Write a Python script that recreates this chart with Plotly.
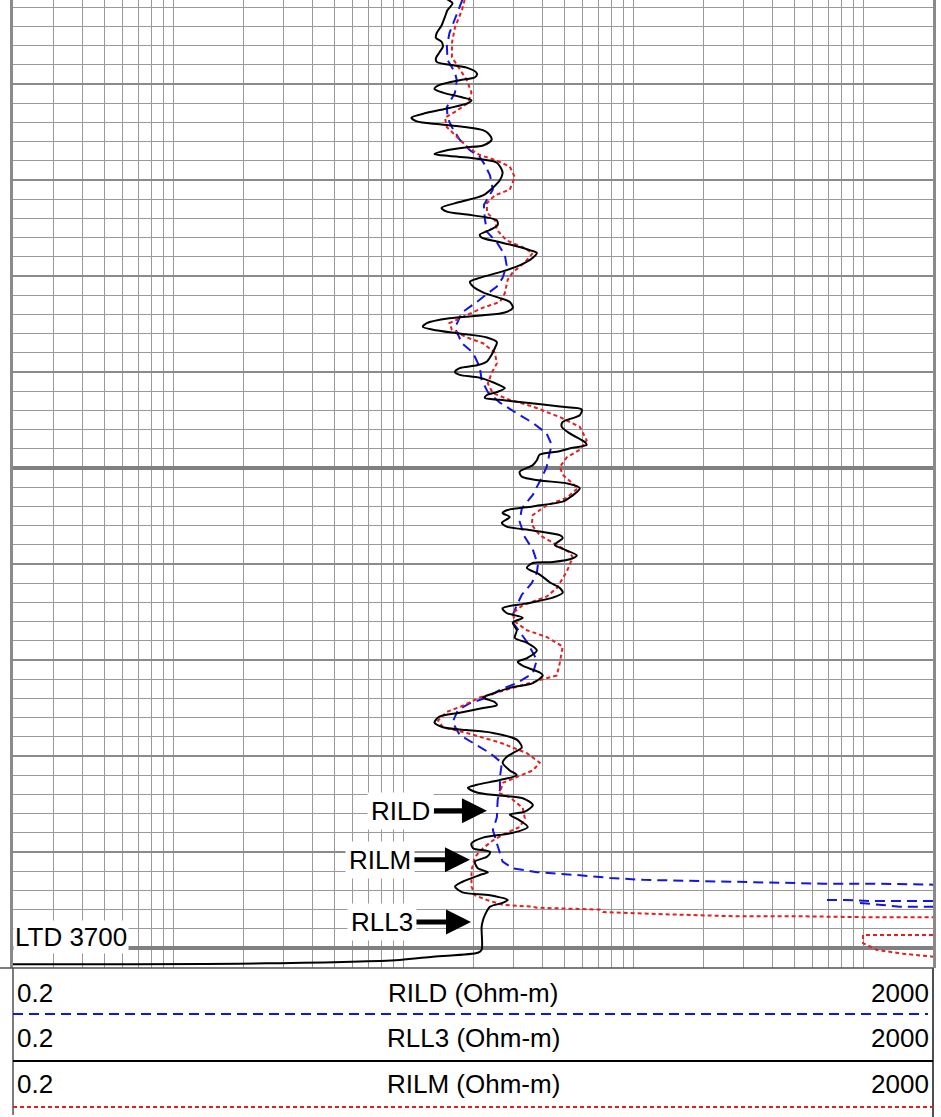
import math
import plotly.graph_objects as go

# RLL3 - black solid
rll3_depth = [3601.2, 3601.6, 3602.3, 3603.0, 3603.9, 3604.7, 3605.2, 3605.6, 3606.1, 3606.7,
              3607.3, 3607.7, 3608.0, 3608.3, 3608.9, 3609.3, 3609.6, 3610.1, 3610.5, 3610.9,
              3611.4, 3611.7, 3612.0, 3612.5, 3613.0, 3613.5, 3613.9, 3614.2, 3614.5, 3614.8,
              3615.1, 3615.8, 3616.4, 3616.6, 3616.9, 3617.3, 3617.5, 3617.7, 3617.9, 3618.2,
              3619.2, 3620.0, 3620.8, 3621.6, 3622.3, 3622.9, 3623.3, 3623.6, 3623.9, 3624.2,
              3624.7, 3625.2, 3625.7, 3626.0, 3626.4, 3626.8, 3627.3, 3627.6, 3628.1, 3628.9,
              3629.6, 3630.2, 3630.6, 3631.1, 3631.7, 3632.3, 3632.7, 3633.3, 3633.8, 3634.1,
              3634.4, 3634.9, 3635.3, 3635.6, 3636.0, 3636.4, 3636.9, 3637.5, 3638.2, 3638.9,
              3639.3, 3639.6, 3640.0, 3640.3, 3640.6, 3641.4, 3641.7, 3642.1, 3642.4, 3642.7,
              3642.9, 3643.2, 3643.6, 3643.9, 3644.5, 3645.2, 3645.7, 3646.4, 3647.3, 3647.6,
              3647.9, 3648.3, 3648.6, 3649.2, 3649.7, 3650.4, 3650.9, 3651.3, 3651.6, 3652.1,
              3653.3, 3653.5, 3654.0, 3654.4, 3654.7, 3655.1, 3655.7, 3656.1, 3656.5, 3657.0,
              3657.3, 3658.0, 3658.3, 3659.1, 3659.4, 3659.8, 3659.9, 3660.4, 3661.1, 3661.9,
              3662.5, 3663.0, 3663.5, 3664.1, 3664.6, 3665.1, 3665.6, 3666.1, 3666.9, 3667.7,
              3668.2, 3669.0, 3669.8, 3670.2, 3670.7, 3671.3, 3671.6, 3672.4, 3672.9, 3673.6,
              3673.9, 3674.4, 3674.7, 3675.0, 3675.5, 3675.9, 3676.5, 3677.0, 3677.3, 3677.6,
              3678.3, 3679.1, 3679.7, 3680.1, 3680.7, 3681.5, 3682.0, 3682.5, 3683.0, 3683.3,
              3683.8, 3684.1, 3684.4, 3685.1, 3685.8, 3686.1, 3686.7, 3687.4, 3688.0, 3688.5,
              3689.1, 3689.6, 3690.0, 3690.5, 3691.0, 3691.7, 3692.1, 3692.4, 3693.1, 3693.6,
              3694.2, 3694.5, 3695.0, 3695.3, 3695.7, 3696.6, 3697.1, 3697.8, 3700.2, 3700.5,
              3700.9, 3701.25, 3701.6, 3701.7]
rll3_ohm = [15.5, 16.3, 15.5, 15.1, 14.6, 13.9, 13.8, 14.6, 14.8, 14.3,
            13.8, 13.9, 15.8, 18.8, 20.8, 20.4, 17.5, 14.3, 13.6, 14.8,
            18.0, 19.7, 19.0, 15.8, 12.6, 10.8, 11.4, 14.3, 18.8, 22.1,
            23.2, 24.1, 22.1, 18.8, 15.4, 13.6, 15.8, 19.7, 22.5, 25.4,
            26.9, 26.2, 24.4, 22.1, 17.5, 14.6, 15.4, 18.8, 23.0, 25.4,
            25.6, 23.7, 21.4, 21.8, 25.4, 29.8, 35.3, 37.9, 36.4, 31.9,
            26.2, 21.4, 19.4, 20.0, 22.1, 26.2, 28.9, 29.8, 27.5, 22.1,
            15.8, 12.6, 12.1, 13.4, 17.5, 23.0, 25.4, 24.9, 24.1, 23.0,
            20.8, 17.5, 16.7, 17.5, 21.4, 26.2, 27.5, 25.4, 23.0, 22.5,
            26.2, 34.3, 47.7, 59.4, 58.2, 49.1, 48.6, 52.7, 61.2, 62.4,
            54.3, 46.3, 39.0, 37.9, 36.4, 31.9, 32.6, 39.0, 51.1, 58.2,
            51.1, 49.1, 36.4, 28.0, 26.9, 28.9, 26.7, 28.0, 36.4, 47.7,
            49.1, 45.4, 47.7, 56.5, 54.3, 44.5, 36.4, 34.3, 39.0, 43.1,
            47.7, 49.1, 44.5, 34.3, 26.9, 28.0, 32.9, 29.8, 31.0, 30.4,
            34.3, 37.9, 34.3, 31.3, 33.6, 39.0, 40.2, 36.4, 28.9, 23.7,
            22.1, 24.9, 25.4, 22.1, 17.5, 14.3, 13.6, 14.8, 18.8, 24.4,
            31.0, 32.6, 29.8, 28.0, 26.9, 28.9, 31.0, 26.2, 20.8, 19.0,
            20.8, 25.4, 32.9, 36.4, 33.6, 28.9, 31.9, 34.6, 29.8, 22.1,
            19.7, 20.0, 23.7, 23.0, 20.4, 21.0, 23.2, 21.4, 18.0, 16.7,
            18.0, 23.7, 28.3, 26.9, 23.7, 22.5, 22.1, 21.8, 21.8, 21.0,
            13.4, 9.6, 2.54, 0.2]

# RILD - blue dashed
rild_depth = [3601.2, 3603.3, 3604.7, 3606.1, 3607.5, 3608.8, 3609.6, 3610.9, 3612.4, 3613.5,
              3614.5, 3615.8, 3616.9, 3617.6, 3618.4, 3619.5, 3621.0, 3622.6, 3624.0, 3625.4,
              3626.5, 3627.8, 3628.9, 3630.2, 3631.1, 3631.8, 3632.7, 3633.8, 3635.4, 3637.0,
              3638.0, 3639.5, 3640.8, 3642.1, 3643.2, 3644.3, 3645.3, 3646.4, 3647.6, 3648.4,
              3649.9, 3651.0, 3652.8, 3654.2, 3655.6, 3657.2, 3658.5, 3660.1, 3660.9, 3662.0,
              3663.2, 3664.3, 3665.3, 3666.1, 3668.1, 3670.0, 3671.4, 3672.4, 3673.1, 3673.9,
              3674.5, 3675.2, 3676.5, 3677.8, 3678.6, 3679.7, 3680.7, 3682.2, 3683.5, 3684.6,
              3686.4, 3687.7, 3689.1, 3690.1, 3691.0, 3691.7, 3692.1, 3692.4, 3692.7, 3692.9,
              3693.0, 3693.1, 3693.2, 3693.3, 3693.3, 3693.4]
rild_ohm = [18.0, 16.7, 15.8, 15.4, 15.5, 16.7, 17.0, 16.7, 15.4, 15.5,
            16.2, 17.5, 19.4, 21.4, 22.5, 23.7, 24.4, 22.3, 22.5, 23.0,
            25.4, 27.5, 28.0, 26.9, 25.4, 23.2, 20.8, 17.9, 16.7, 17.9,
            20.0, 21.4, 21.8, 23.2, 26.2, 31.0, 36.4, 41.8, 44.0, 43.1,
            41.8, 39.8, 36.4, 32.6, 31.9, 33.6, 36.4, 38.3, 37.9, 36.0,
            32.6, 31.0, 29.8, 29.8, 34.3, 37.9, 36.4, 31.0, 26.2, 23.0,
            19.4, 17.2, 16.3, 17.5, 20.0, 23.7, 26.7, 26.2, 26.2, 25.6,
            25.4, 24.4, 25.4, 26.2, 26.9, 29.8, 37.9, 56.5, 78.8, 110,
            170, 281, 544, 665, 1064, 2000]
# wrapped (backup) pieces of RILD
rild_wrap1_depth = [3695.0, 3695.0, 3695.1, 3695.1]
rild_wrap1_ohm = [692, 828, 1064, 2000]
rild_wrap2_depth = [3695.3, 3695.5, 3695.7, 3695.7]
rild_wrap2_ohm = [963, 1178, 1438, 2000]

# RILM - red dotted
rilm_depth = [3601.2, 3602.3, 3604.1, 3605.7, 3607.2, 3608.2, 3609.6, 3610.9, 3612.0, 3612.9,
              3613.5, 3614.5, 3615.5, 3616.6, 3617.4, 3617.9, 3618.6, 3619.7, 3621.0, 3621.6,
              3622.4, 3623.4, 3624.2, 3625.2, 3626.3, 3627.0, 3627.6, 3628.6, 3629.6, 3630.4,
              3631.8, 3632.7, 3633.3, 3634.1, 3634.9, 3635.6, 3636.4, 3637.0, 3638.0, 3639.1,
              3640.1, 3641.2, 3642.2, 3642.9, 3643.6, 3644.7, 3645.7, 3647.1, 3648.1, 3648.9,
              3649.9, 3650.7, 3652.1, 3653.1, 3653.9, 3654.9, 3655.9, 3657.0, 3658.0, 3658.8,
              3659.3, 3660.8, 3662.5, 3663.4, 3664.3, 3665.1, 3666.0, 3666.9, 3667.6, 3668.6,
              3670.3, 3671.6, 3672.1, 3672.8, 3673.4, 3673.9, 3674.9, 3675.4, 3676.3, 3677.0,
              3677.6, 3678.6, 3679.7, 3680.7, 3681.5, 3682.2, 3682.8, 3683.9, 3684.3, 3685.4,
              3686.5, 3687.4, 3688.0, 3688.8, 3689.6, 3690.5, 3691.9, 3693.6, 3694.5, 3695.0,
              3695.5, 3695.7, 3695.8, 3696.0, 3696.25, 3696.5, 3696.7, 3696.7, 3696.8, 3696.8]
rilm_ohm = [18.4, 17.9, 16.7, 16.2, 16.2, 17.2, 18.8, 19.7, 19.0, 16.7,
            15.1, 15.4, 17.0, 19.0, 21.4, 24.9, 28.9, 30.4, 28.9, 24.9,
            23.0, 23.0, 24.9, 25.4, 28.0, 32.9, 36.4, 33.6, 29.8, 28.3,
            27.5, 26.2, 22.1, 18.8, 15.8, 16.2, 18.8, 22.1, 24.9, 25.4,
            24.1, 23.2, 24.4, 28.9, 36.4, 47.7, 58.2, 62.4, 58.2, 51.1,
            47.7, 49.1, 57.1, 51.1, 41.8, 36.4, 36.0, 39.0, 46.3, 52.7,
            54.3, 51.1, 46.3, 41.8, 32.9, 29.8, 30.4, 34.3, 41.8, 49.1,
            47.7, 46.3, 39.0, 31.0, 25.4, 21.4, 17.5, 15.4, 14.1, 14.8,
            18.8, 26.2, 34.3, 39.0, 36.4, 31.0, 26.9, 26.2, 28.9, 32.9,
            33.6, 31.9, 28.0, 24.4, 22.1, 20.4, 19.7, 19.7, 20.4, 23.0,
            26.9, 36.4, 37.9, 71.3, 73.5, 144, 281, 544, 1064, 2000]
rilm_wrap_depth = [3698.65, 3698.65, 3699.5, 3700.2, 3700.6, 3700.9]
rilm_wrap_ohm = [2000, 993, 993, 1142, 1482, 2000]

header_rows = ['RILD (Ohm-m)', 'RLL3 (Ohm-m)', 'RILM (Ohm-m)']
scale_left, scale_right = '0.2', '2000'

BLUE = '#1414e6'
RED = '#e61e1e'
GRID = '#999999'
FONT = 'Arial, Liberation Sans, sans-serif'

W, H = 941, 1117
L, R, T, B = 13, 8, 0, 149
plot_h = H - T - B
top_depth = 3601.25
bot_depth = top_depth + plot_h / 9.6


def py(ypix):
    # paper y for a pixel row below/inside the plot
    return (plot_h - ypix) / plot_h


def px(xpix):
    return (xpix - L) / (W - L - R)


fig = go.Figure()

blue_line = dict(color=BLUE, width=2, dash='10px,6px')
red_line = dict(color=RED, width=2, dash='4px,3px')

fig.add_trace(go.Scatter(x=rild_ohm, y=rild_depth, mode='lines', line=blue_line))
fig.add_trace(go.Scatter(x=rild_wrap1_ohm, y=rild_wrap1_depth, mode='lines', line=blue_line))
fig.add_trace(go.Scatter(x=rild_wrap2_ohm, y=rild_wrap2_depth, mode='lines', line=blue_line))
fig.add_trace(go.Scatter(x=rilm_ohm, y=rilm_depth, mode='lines', line=red_line))
fig.add_trace(go.Scatter(x=rilm_wrap_ohm, y=rilm_wrap_depth, mode='lines', line=red_line))
fig.add_trace(go.Scatter(x=rll3_ohm, y=rll3_depth, mode='lines',
                         line=dict(color='black', width=2, shape='spline', smoothing=0.8)))
# empty trace so the 50 ft overlay axis is drawn
fig.add_trace(go.Scatter(x=[None], y=[None], yaxis='y2', mode='lines'))

# curve labels with arrows
labels = [('RILD', 23.0, 3685.7, -86), ('RILM', 19.4, 3690.8, -90), ('RLL3', 19.6, 3697.3, -89)]
for name, val, dep, off in labels:
    fig.add_annotation(x=math.log10(val), y=dep, text=name, showarrow=True,
                       ax=off, ay=0, arrowhead=2, arrowsize=1.0, arrowwidth=5,
                       arrowcolor='black', standoff=0, bgcolor='white', borderpad=3,
                       font=dict(size=26, color='black', family=FONT))

fig.add_annotation(xref='paper', x=0, xanchor='left', y=3698.9, yanchor='middle',
                   text='LTD 3700', showarrow=False, bgcolor='white',
                   font=dict(size=26, color='black', family=FONT))

# header block
text_rows = [993, 1038, 1084]
for name, yy in zip(header_rows, text_rows):
    for txt, xx, anc in [(scale_left, px(15), 'left'), (name, 0.5, 'center'),
                         (scale_right, px(931), 'right')]:
        fig.add_annotation(xref='paper', yref='paper', x=xx, y=py(yy), xanchor=anc,
                           yanchor='middle', text=txt, showarrow=False,
                           font=dict(size=26, color='black', family=FONT))

frame = dict(color='#505050', width=1.5)
fig.add_shape(type='line', xref='paper', yref='paper', x0=px(0), x1=1, y0=0, y1=0, line=frame)
fig.add_shape(type='line', xref='paper', yref='paper', x0=0, x1=0, y0=0, y1=py(1115), line=frame)
fig.add_shape(type='line', xref='paper', yref='paper', x0=1, x1=1, y0=0, y1=py(1117),
              line=dict(color='#505050', width=2))
fig.add_shape(type='line', xref='paper', yref='paper', x0=0, x1=px(928), y0=py(1014), y1=py(1014),
              line=blue_line)
fig.add_shape(type='line', xref='paper', yref='paper', x0=0, x1=1, y0=py(1061), y1=py(1061),
              line=dict(color='black', width=2))
fig.add_shape(type='line', xref='paper', yref='paper', x0=0, x1=1, y0=py(1107), y1=py(1107),
              line=red_line)

fig.update_layout(
    width=W, height=H,
    margin=dict(l=L, r=R, t=T, b=B, autoexpand=False),
    paper_bgcolor='white', plot_bgcolor='white',
    showlegend=False,
    xaxis=dict(type='log', range=[math.log10(0.2), math.log10(2000)], dtick='D1',
               showticklabels=False, ticks='', showgrid=True, gridcolor=GRID, gridwidth=1,
               zeroline=False, showline=False),
    yaxis=dict(range=[bot_depth, top_depth], tick0=0, dtick=10, showticklabels=False, ticks='',
               showgrid=True, gridcolor='#8a8a8a', gridwidth=2, zeroline=False,
               showline=True, mirror=True, linecolor='#8a8a8a', linewidth=3,
               minor=dict(dtick=2, showgrid=True, gridcolor=GRID, gridwidth=1)),
    yaxis2=dict(overlaying='y', range=[bot_depth, top_depth], tick0=0, dtick=50,
                showticklabels=False, ticks='', showgrid=True, gridcolor='#808080',
                gridwidth=3.5, zeroline=False, showline=False),
)

# page body has a default margin; drop it so the figure starts at the window corner
fig.write_html('out.html', config={'displayModeBar': False},
               post_script="document.body.style.margin='0';")
